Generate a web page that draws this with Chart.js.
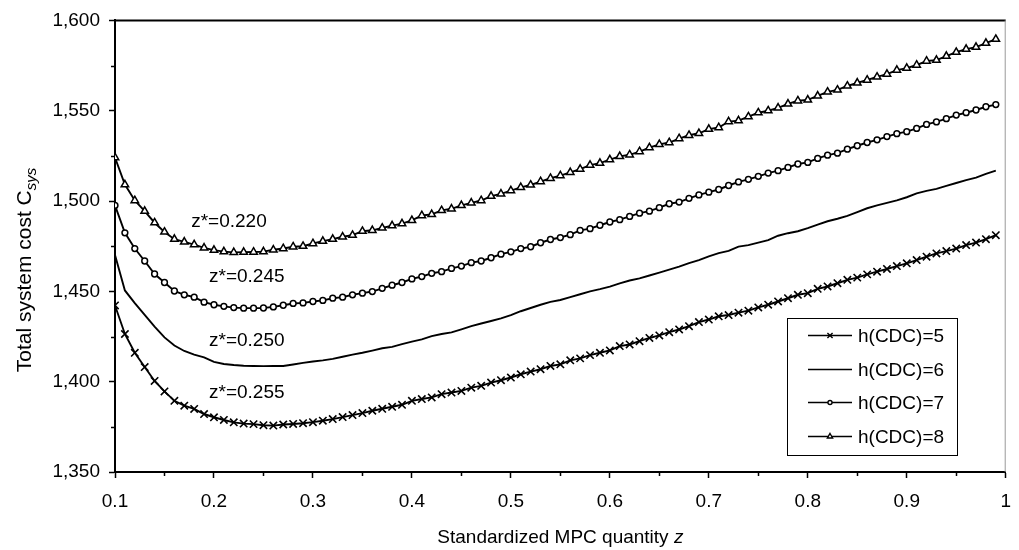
<!DOCTYPE html>
<html lang="en">
<head>
    <meta charset="UTF-8">
    <title>Total system cost vs standardized MPC quantity</title>
    <script src="https://cdn.jsdelivr.net/npm/chart.js"></script>
    <style>
        body { margin: 0; overflow: hidden; background: #fff; }
        canvas { display: block; }
    </style>
</head>
<body>
    <canvas id="costChart" width="1023" height="550"></canvas>

    <script>
        // standardized MPC quantity z (x values)
        const zValues = [
            0.10, 0.11, 0.12, 0.13, 0.14, 0.15, 0.16, 0.17, 0.18, 0.19,
            0.20, 0.21, 0.22, 0.23, 0.24, 0.25, 0.26, 0.27, 0.28, 0.29,
            0.30, 0.31, 0.32, 0.33, 0.34, 0.35, 0.36, 0.37, 0.38, 0.39,
            0.40, 0.41, 0.42, 0.43, 0.44, 0.45, 0.46, 0.47, 0.48, 0.49,
            0.50, 0.51, 0.52, 0.53, 0.54, 0.55, 0.56, 0.57, 0.58, 0.59,
            0.60, 0.61, 0.62, 0.63, 0.64, 0.65, 0.66, 0.67, 0.68, 0.69,
            0.70, 0.71, 0.72, 0.73, 0.74, 0.75, 0.76, 0.77, 0.78, 0.79,
            0.80, 0.81, 0.82, 0.83, 0.84, 0.85, 0.86, 0.87, 0.88, 0.89,
            0.90, 0.91, 0.92, 0.93, 0.94, 0.95, 0.96, 0.97, 0.98, 0.99
        ];

        // total system cost for each h(CDC)
        const cost_h5 = [
            1442.2, 1426.4, 1416.0, 1408.1, 1400.4, 1394.6, 1389.4, 1386.7, 1384.9, 1382.1,
            1380.3, 1378.8, 1377.5, 1376.8, 1376.5, 1375.9, 1375.7, 1376.3, 1376.6, 1377.0,
            1377.6, 1378.4, 1379.3, 1380.4, 1381.5, 1382.6, 1383.9, 1385.0, 1386.1, 1387.2,
            1389.4, 1390.4, 1391.3, 1393.1, 1394.0, 1394.9, 1396.7, 1397.7, 1399.5, 1400.8,
            1402.3, 1404.1, 1405.6, 1406.9, 1408.7, 1409.6, 1411.8, 1412.9, 1414.7, 1416.0,
            1417.3, 1419.7, 1420.6, 1422.4, 1424.2, 1425.6, 1427.4, 1428.9, 1430.7, 1433.0,
            1434.4, 1436.2, 1436.9, 1438.2, 1439.3, 1441.1, 1442.6, 1444.4, 1446.2, 1448.1,
            1449.0, 1451.4, 1452.7, 1454.5, 1456.4, 1457.6, 1459.4, 1460.9, 1462.4, 1464.0,
            1465.5, 1467.3, 1469.2, 1471.0, 1472.3, 1473.7, 1475.6, 1477.0, 1478.9, 1481.1
        ];
        const cost_h6 = [
            1470.1, 1450.5, 1443.5, 1437.0, 1430.5, 1424.5, 1420.0, 1417.0, 1415.0, 1413.5,
            1411.0, 1409.8, 1409.2, 1408.8, 1408.7, 1408.6, 1408.7, 1408.7, 1409.5, 1410.4,
            1411.2, 1411.8, 1412.6, 1413.8, 1415.0, 1416.0, 1417.2, 1418.5, 1419.3, 1420.8,
            1422.2, 1423.4, 1425.2, 1426.4, 1427.3, 1429.0, 1430.8, 1432.2, 1433.6, 1435.0,
            1436.8, 1439.0, 1440.8, 1442.6, 1444.2, 1445.2, 1446.8, 1448.4, 1450.0, 1451.2,
            1452.6, 1454.4, 1456.0, 1457.2, 1458.8, 1460.4, 1462.0, 1463.7, 1465.6, 1467.3,
            1469.4, 1471.2, 1472.4, 1474.8, 1475.6, 1477.0, 1478.4, 1480.8, 1482.2, 1483.3,
            1485.0, 1487.0, 1488.8, 1490.2, 1491.8, 1493.9, 1496.0, 1497.6, 1499.0, 1500.4,
            1502.1, 1504.2, 1505.6, 1506.7, 1508.4, 1510.0, 1511.6, 1513.0, 1515.0, 1516.8
        ];
        const cost_h7 = [
            1497.6, 1482.4, 1473.7, 1466.8, 1459.6, 1454.9, 1450.2, 1448.1, 1446.8, 1444.0,
            1442.6, 1441.7, 1441.0, 1440.7, 1440.7, 1440.8, 1441.4, 1442.3, 1443.3, 1443.6,
            1444.4, 1445.0, 1446.2, 1446.8, 1448.1, 1449.0, 1449.9, 1451.7, 1453.4, 1454.9,
            1456.9, 1458.2, 1460.0, 1460.9, 1462.7, 1464.0, 1465.9, 1466.8, 1468.6, 1470.6,
            1471.9, 1473.7, 1474.7, 1476.9, 1478.7, 1479.8, 1481.4, 1483.8, 1484.7, 1486.6,
            1488.4, 1489.7, 1491.5, 1493.3, 1494.4, 1496.3, 1498.5, 1499.4, 1501.5, 1503.4,
            1504.9, 1506.4, 1508.6, 1510.6, 1512.0, 1513.7, 1515.5, 1516.8, 1518.6, 1520.5,
            1521.4, 1523.6, 1525.4, 1526.5, 1528.7, 1530.6, 1532.4, 1533.9, 1535.7, 1537.3,
            1538.4, 1540.2, 1542.4, 1543.8, 1545.6, 1547.6, 1548.9, 1550.4, 1552.2, 1553.4
        ];
        const cost_h8 = [
            1524.1, 1509.1, 1500.3, 1494.4, 1488.0, 1482.9, 1478.9, 1477.4, 1475.9, 1474.1,
            1472.8, 1472.0, 1471.6, 1471.7, 1471.8, 1472.0, 1473.0, 1473.7, 1474.7, 1475.0,
            1476.5, 1477.8, 1478.9, 1480.2, 1481.1, 1483.3, 1483.8, 1485.1, 1486.4, 1487.5,
            1489.3, 1492.0, 1492.6, 1494.8, 1495.7, 1497.6, 1499.0, 1500.3, 1502.7, 1504.0,
            1505.8, 1507.6, 1508.9, 1510.8, 1512.6, 1514.1, 1515.9, 1517.7, 1519.9, 1521.0,
            1522.9, 1524.7, 1525.6, 1527.4, 1529.6, 1531.4, 1532.4, 1534.6, 1536.4, 1537.5,
            1539.8, 1540.7, 1544.0, 1544.5, 1546.7, 1548.9, 1550.0, 1551.6, 1553.8, 1555.5,
            1556.0, 1558.2, 1560.4, 1561.5, 1563.7, 1565.4, 1567.0, 1568.7, 1570.3, 1572.5,
            1573.6, 1575.3, 1577.5, 1578.0, 1580.2, 1582.4, 1584.1, 1585.2, 1587.4, 1589.6
        ];

        const seriesLabels = ['h(CDC)=5', 'h(CDC)=6', 'h(CDC)=7', 'h(CDC)=8'];
        const optimumLabels = ['z*=0.220', 'z*=0.245', 'z*=0.250', 'z*=0.255'];
        const xTicks = [0.1, 0.2, 0.3, 0.4, 0.5, 0.6, 0.7, 0.8, 0.9, 1.0];
        const yTicks = [1350, 1400, 1450, 1500, 1550, 1600];

        const FONT = "'Liberation Sans', Arial, sans-serif";

        function toPoints(values) {
            return zValues.map((z, i) => ({ x: z, y: values[i] }));
        }

        // where the z* notes sit (data units), same order as optimumLabels
        const notePos = [
            { x: 0.177, y: 1488.5 },
            { x: 0.195, y: 1458.2 },
            { x: 0.195, y: 1422.4 },
            { x: 0.195, y: 1393.8 }
        ];

        // frame, minor ticks, notes, legend and axis titles
        const decorPlugin = {
            id: 'decor',
            afterDraw(chart) {
                const ctx = chart.ctx;
                const a = chart.chartArea;
                const xs = chart.scales.x, ys = chart.scales.y;
                ctx.save();

                // top + right border
                ctx.strokeStyle = '#000';
                ctx.lineWidth = 2;
                ctx.beginPath();
                ctx.moveTo(a.left, a.top);
                ctx.lineTo(a.right, a.top);
                ctx.stroke();
                ctx.strokeStyle = '#9a9a9a';
                ctx.lineWidth = 1;
                ctx.beginPath();
                ctx.moveTo(a.right - 0.5, a.top);
                ctx.lineTo(a.right - 0.5, a.bottom);
                ctx.stroke();

                // minor ticks halfway between the major ones
                ctx.strokeStyle = '#000';
                ctx.lineWidth = 1.5;
                ctx.beginPath();
                for (let i = 0; i < xTicks.length - 1; i++) {
                    const px = Math.round(xs.getPixelForValue((xTicks[i] + xTicks[i + 1]) / 2)) + 0.5;
                    ctx.moveTo(px, a.bottom);
                    ctx.lineTo(px, a.bottom + 4);
                }
                for (let i = 0; i < yTicks.length - 1; i++) {
                    const py = Math.round(ys.getPixelForValue((yTicks[i] + yTicks[i + 1]) / 2)) + 0.5;
                    ctx.moveTo(a.left, py);
                    ctx.lineTo(a.left - 4, py);
                }
                ctx.stroke();

                // z* notes
                ctx.fillStyle = '#000';
                ctx.font = '19px ' + FONT;
                ctx.textAlign = 'left';
                ctx.textBaseline = 'middle';
                optimumLabels.forEach((t, i) => {
                    ctx.fillText(t, xs.getPixelForValue(notePos[i].x), ys.getPixelForValue(notePos[i].y));
                });

                // legend box
                const lx = 787, ly = 318, lw = 170, lh = 137;
                ctx.fillStyle = '#fff';
                ctx.fillRect(lx, ly, lw, lh);
                ctx.strokeStyle = '#000';
                ctx.lineWidth = 1;
                ctx.strokeRect(lx + 0.5, ly + 0.5, lw, lh);
                const rows = [335, 369, 402, 436];
                chart.data.datasets.forEach((ds, i) => {
                    const ry = rows[i] + 0.5;
                    ctx.strokeStyle = '#000';
                    ctx.lineWidth = 1.6;
                    ctx.beginPath();
                    ctx.moveTo(808, ry);
                    ctx.lineTo(852, ry);
                    ctx.stroke();
                    if (ds.pointRadius > 0) {
                        ctx.fillStyle = '#fff';
                        ctx.lineWidth = 1.4;
                        Chart.helpers.drawPoint(ctx, {
                            pointStyle: ds.pointStyle,
                            radius: ds.pointRadius * 0.7,
                            borderWidth: 1.4,
                            rotation: 0
                        }, 830, ry);
                    }
                    ctx.fillStyle = '#000';
                    ctx.font = '19px ' + FONT;
                    ctx.textAlign = 'left';
                    ctx.textBaseline = 'middle';
                    ctx.fillText(ds.label, 858, ry + 1);
                });

                // x axis title, z in italics
                ctx.fillStyle = '#000';
                ctx.textBaseline = 'alphabetic';
                ctx.textAlign = 'left';
                const t1 = 'Standardized MPC quantity ';
                ctx.font = '19px ' + FONT;
                const w1 = ctx.measureText(t1).width;
                ctx.font = 'italic 19px ' + FONT;
                const w2 = ctx.measureText('z').width;
                let sx = (a.left + a.right) / 2 - (w1 + w2) / 2;
                ctx.font = '19px ' + FONT;
                ctx.fillText(t1, sx, 543);
                ctx.font = 'italic 19px ' + FONT;
                ctx.fillText('z', sx + w1, 543);

                // y axis title, C with italic subscript sys
                ctx.translate(31, 270);
                ctx.rotate(-Math.PI / 2);
                const t3 = 'Total system cost C';
                ctx.font = '21px ' + FONT;
                const w3 = ctx.measureText(t3).width;
                ctx.font = 'italic 15px ' + FONT;
                const w4 = ctx.measureText('sys').width;
                sx = -(w3 + w4) / 2;
                ctx.font = '21px ' + FONT;
                ctx.fillText(t3, sx, 0);
                ctx.font = 'italic 15px ' + FONT;
                ctx.fillText('sys', sx + w3, 5);

                ctx.restore();
            }
        };

        const ctxCost = document.getElementById('costChart').getContext('2d');
        const costChart = new Chart(ctxCost, {
            type: 'line',
            data: {
                datasets: [
                    {
                        label: seriesLabels[0],
                        data: toPoints(cost_h5),
                        borderColor: '#000',
                        borderWidth: 1.9,
                        pointStyle: 'crossRot',
                        pointRadius: 5.2,
                        pointBorderWidth: 1.6,
                        pointBorderColor: '#000',
                        pointBackgroundColor: '#fff',
                        fill: false
                    },
                    {
                        label: seriesLabels[1],
                        data: toPoints(cost_h6),
                        borderColor: '#000',
                        borderWidth: 1.9,
                        pointRadius: 0,
                        fill: false
                    },
                    {
                        label: seriesLabels[2],
                        data: toPoints(cost_h7),
                        borderColor: '#000',
                        borderWidth: 1.9,
                        pointStyle: 'circle',
                        pointRadius: 2.9,
                        pointBorderWidth: 1.5,
                        pointBorderColor: '#000',
                        pointBackgroundColor: '#fff',
                        fill: false
                    },
                    {
                        label: seriesLabels[3],
                        data: toPoints(cost_h8),
                        borderColor: '#000',
                        borderWidth: 1.9,
                        pointStyle: 'triangle',
                        pointRadius: 4.3,
                        pointBorderWidth: 1.5,
                        pointBorderColor: '#000',
                        pointBackgroundColor: '#fff',
                        fill: false
                    }
                ]
            },
            options: {
                responsive: false,
                animation: false,
                devicePixelRatio: 1,
                layout: { padding: { top: 17, right: 0, bottom: 0, left: 0 } },
                elements: { line: { tension: 0 } },
                plugins: {
                    legend: { display: false },
                    tooltip: { enabled: false }
                },
                scales: {
                    x: {
                        type: 'linear',
                        min: 0.1,
                        max: 1,
                        afterBuildTicks: s => { s.ticks = xTicks.map(v => ({ value: v })); },
                        afterFit: s => { s.height = 78; },
                        grid: { drawOnChartArea: false, drawTicks: true, tickLength: 6, tickColor: '#000', tickWidth: 1.5 },
                        border: { color: '#000', width: 2 },
                        ticks: {
                            color: '#000',
                            font: { family: FONT, size: 19 },
                            padding: 12,
                            maxRotation: 0,
                            callback: v => Number(v.toFixed(1)).toString()
                        }
                    },
                    y: {
                        min: 1350,
                        max: 1600,
                        afterBuildTicks: s => { s.ticks = yTicks.map(v => ({ value: v })); },
                        afterFit: s => { s.width = 115; },
                        grid: { drawOnChartArea: false, drawTicks: true, tickLength: 6, tickColor: '#000', tickWidth: 1.5 },
                        border: { color: '#000', width: 2 },
                        ticks: {
                            color: '#000',
                            font: { family: FONT, size: 19 },
                            padding: 9,
                            callback: v => v.toLocaleString('en-US')
                        }
                    }
                }
            },
            plugins: [decorPlugin]
        });
    </script>
</body>
</html>
